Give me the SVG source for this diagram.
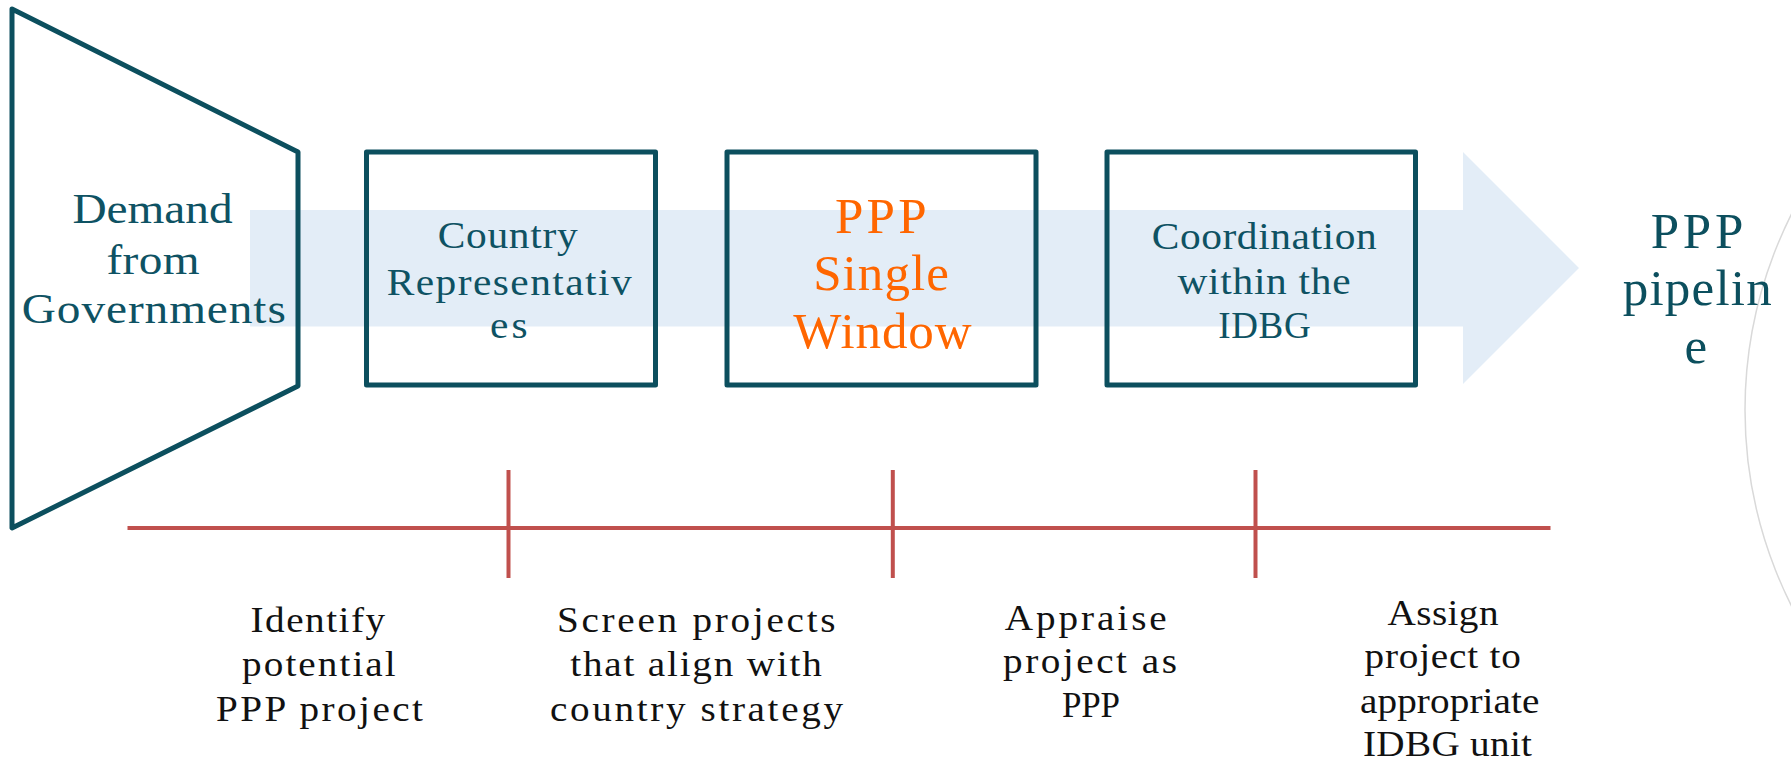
<svg xmlns="http://www.w3.org/2000/svg" width="1791" height="762" viewBox="0 0 1791 762">
  <style>
    .frame { fill: none; stroke: #0C4F5E; stroke-width: 5; stroke-linejoin: round; }
    .teal { font-family: "Liberation Serif", "Times New Roman", serif; fill: #0E5263; text-anchor: middle; }
    .orange { font-family: "Liberation Serif", "Times New Roman", serif; fill: #FF6600; text-anchor: middle; font-size: 51px; }
    .pipe { font-family: "Liberation Serif", "Times New Roman", serif; fill: #0C4F5E; text-anchor: middle; font-size: 51px; }
    .step { font-family: "Liberation Serif", "Times New Roman", serif; fill: #111111; text-anchor: middle; font-size: 35px; }
    .tl { stroke: #C0504D; stroke-width: 4; fill: none; }
  </style>
  <rect width="1791" height="762" fill="#FFFFFF"/>

  <!-- decorative grey arc on the right -->
  <circle cx="2181" cy="410" r="436" fill="none" stroke="#D9D9D9" stroke-width="1.5"/>

  <!-- flow arrow (connector) -->
  <g id="connectors">
    <polygon points="250,210 1463,210 1463,152 1579,268 1463,384 1463,326.5 250,326.5" fill="#E3EDF7"/>
  </g>

  <g id="node-demand">
    <polygon class="frame" points="12,9 298,152 298,386 12,528"/>
    <text class="teal" font-size="43" transform="translate(152.5 222.7) scale(1.1 1)" textLength="145.5" lengthAdjust="spacing">Demand</text>
    <text class="teal" font-size="43" transform="translate(153 274) scale(1.1 1)" textLength="84.5" lengthAdjust="spacing">from</text>
    <text class="teal" font-size="43" transform="translate(153.8 322.7) scale(1.1 1)" textLength="240" lengthAdjust="spacing">Governments</text>
  </g>

  <g id="node-country">
    <rect class="frame" x="366.5" y="152" width="289" height="233"/>
    <text class="teal" font-size="37" transform="translate(507.7 248.3) scale(1.12 1)" textLength="125" lengthAdjust="spacing">Country</text>
    <text class="teal" font-size="37" transform="translate(509.2 295) scale(1.12 1)" textLength="218.8" lengthAdjust="spacing">Representativ</text>
    <text class="teal" font-size="37" transform="translate(508.8 338.3) scale(1.12 1)" textLength="33.7" lengthAdjust="spacing">es</text>
  </g>

  <g id="node-single-window">
    <rect class="frame" x="727" y="152" width="309" height="233"/>
    <text class="orange" x="880.8" y="232.7" textLength="91.7" lengthAdjust="spacing">PPP</text>
    <text class="orange" x="881" y="290" textLength="135.7" lengthAdjust="spacing">Single</text>
    <text class="orange" x="882.5" y="348.3" textLength="178.3" lengthAdjust="spacing">Window</text>
  </g>

  <g id="node-coordination">
    <rect class="frame" x="1107" y="152" width="308.5" height="233"/>
    <text class="teal" font-size="37" transform="translate(1264.2 249.3) scale(1.12 1)" textLength="200.9" lengthAdjust="spacing">Coordination</text>
    <text class="teal" font-size="37" transform="translate(1264 294.3) scale(1.12 1)" textLength="154.7" lengthAdjust="spacing">within the</text>
    <text class="teal" font-size="37" x="1264.5" y="338.3" textLength="92.3" lengthAdjust="spacing">IDBG</text>
  </g>

  <g id="node-pipeline">
    <text class="pipe" x="1697" y="248.3" textLength="92.7" lengthAdjust="spacing">PPP</text>
    <text class="pipe" x="1697.2" y="305" textLength="149" lengthAdjust="spacing">pipelin</text>
    <text class="pipe" x="1695.8" y="363.3">e</text>
  </g>

  <g id="timeline">
    <line class="tl" x1="127.5" y1="528" x2="1550.5" y2="528"/>
    <line class="tl" x1="508.5" y1="470" x2="508.5" y2="578"/>
    <line class="tl" x1="892.8" y1="470" x2="892.8" y2="578"/>
    <line class="tl" x1="1255.5" y1="470" x2="1255.5" y2="578"/>
  </g>

  <g id="label-identify">
    <text class="step" transform="translate(317.8 631.7) scale(1.12 1)" textLength="120.3" lengthAdjust="spacing">Identify</text>
    <text class="step" transform="translate(318.9 676) scale(1.12 1)" textLength="137.2" lengthAdjust="spacing">potential</text>
    <text class="step" transform="translate(319.5 720.7) scale(1.12 1)" textLength="184.8" lengthAdjust="spacing">PPP project</text>
  </g>

  <g id="label-screen">
    <text class="step" transform="translate(696.2 631.7) scale(1.12 1)" textLength="248.8" lengthAdjust="spacing">Screen projects</text>
    <text class="step" transform="translate(696 676) scale(1.12 1)" textLength="224.7" lengthAdjust="spacing">that align with</text>
    <text class="step" transform="translate(696.5 720.7) scale(1.12 1)" textLength="261.6" lengthAdjust="spacing">country strategy</text>
  </g>

  <g id="label-appraise">
    <text class="step" transform="translate(1085.8 629.5) scale(1.12 1)" textLength="144.6" lengthAdjust="spacing">Appraise</text>
    <text class="step" transform="translate(1090 673.3) scale(1.12 1)" textLength="155.2" lengthAdjust="spacing">project as</text>
    <text class="step" x="1091" y="716.7" textLength="58" lengthAdjust="spacing">PPP</text>
  </g>

  <g id="label-assign">
    <text class="step" transform="translate(1443 625) scale(1.12 1)" textLength="99.1" lengthAdjust="spacing">Assign</text>
    <text class="step" transform="translate(1442.7 668.3) scale(1.12 1)" textLength="139.7" lengthAdjust="spacing">project to</text>
    <text class="step" transform="translate(1449.7 713.3) scale(1.12 1)" textLength="160.2" lengthAdjust="spacing">appropriate</text>
    <text class="step" transform="translate(1447.5 756) scale(1.12 1)" textLength="150.9" lengthAdjust="spacing">IDBG unit</text>
  </g>
</svg>
